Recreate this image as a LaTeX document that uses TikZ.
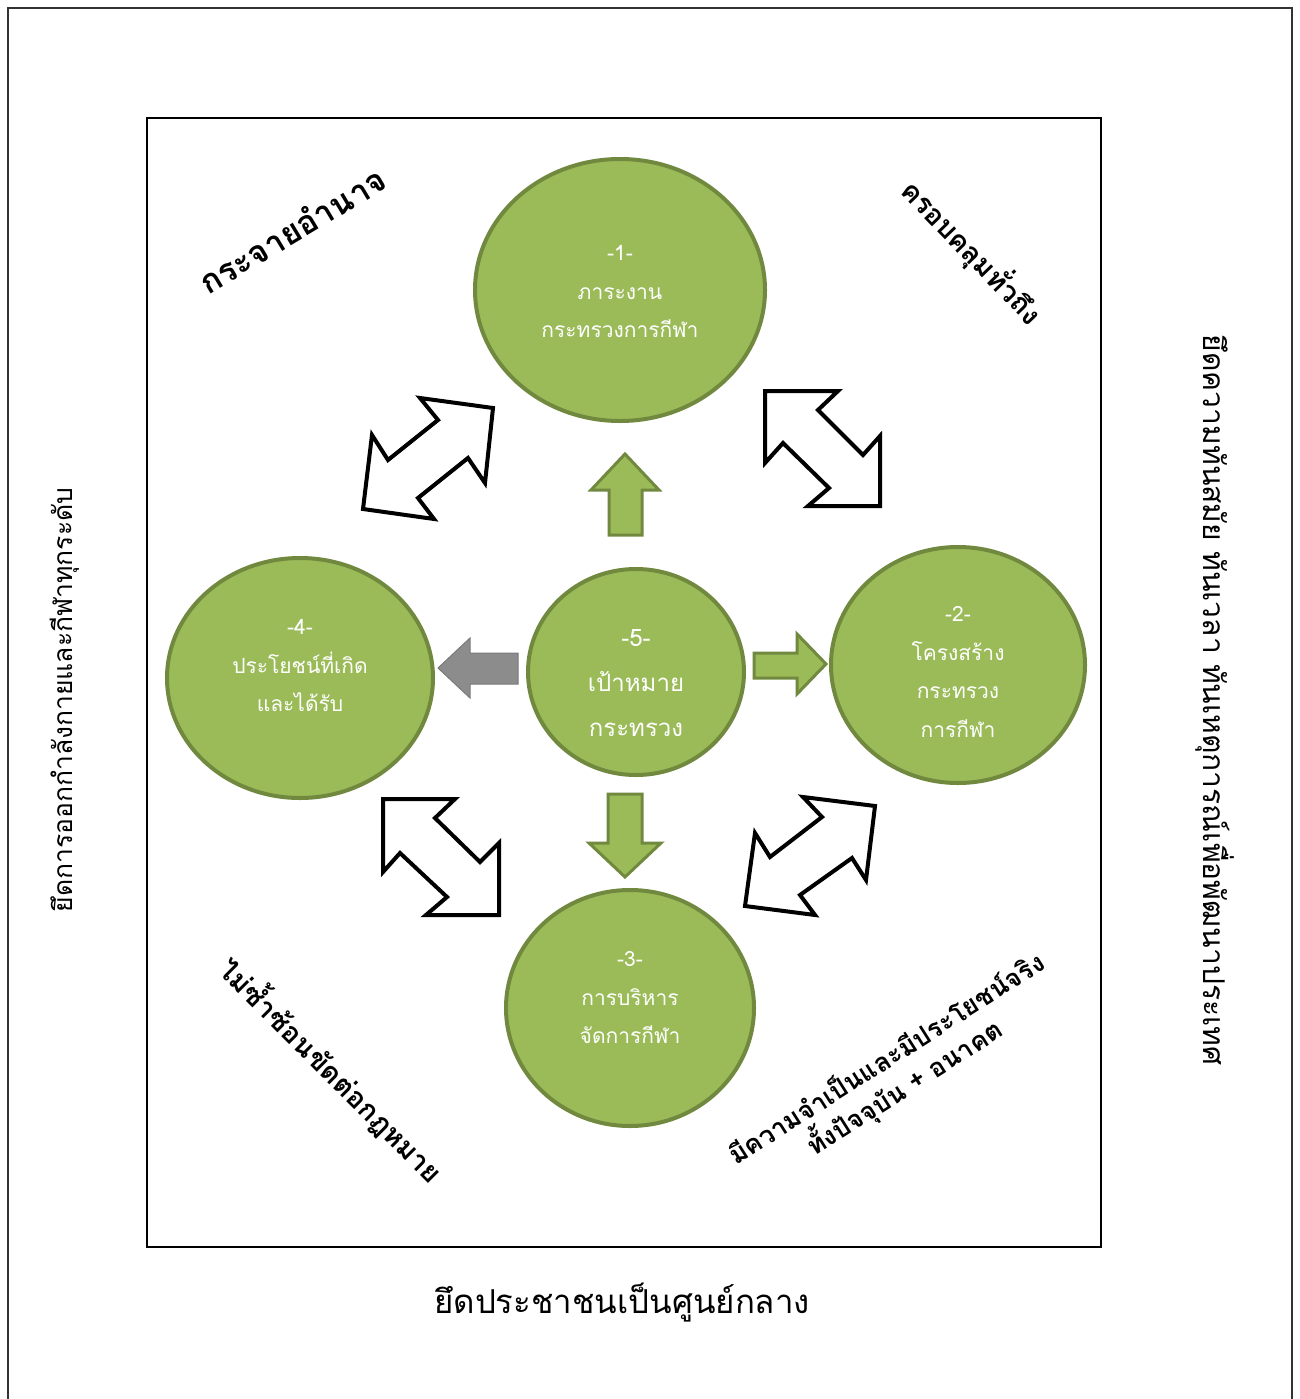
\documentclass[tikz,border=0pt]{standalone}
\usepackage{fontspec}
\setmainfont{Loma}[Script=Thai]
\newfontfamily\thaifont[Script=Thai]{Loma}
\usetikzlibrary{shapes.geometric}
\definecolor{ogreen}{HTML}{9BBB59}
\definecolor{oborder}{HTML}{71893F}
\definecolor{agray}{HTML}{8C8C8C}
\definecolor{agrayb}{HTML}{7A7A7A}
\begin{document}
\begin{tikzpicture}[x=1pt,y=-1pt,
  circ/.style={ellipse, fill=ogreen, draw=oborder, line width=4pt, inner sep=0pt},
  ctext/.style={text=white, align=center, inner sep=0pt, font=\thaifont\fontsize{21}{38.5}\selectfont},
  blockgreen/.style={fill=ogreen, draw=oborder, line width=3pt, line join=miter},
  blockgray/.style={fill=agray, draw=agrayb, line width=1pt},
  dbl/.style={fill=white, draw=black, line width=4pt, line join=miter},
  lbl/.style={font=\thaifont\bfseries\fontsize{28}{36}\selectfont, align=center, inner sep=0pt},
  side/.style={font=\thaifont\fontsize{26.5}{30}\selectfont, inner sep=0pt}]
\useasboundingbox (0,0) rectangle (1299,1399);
\fill[white] (0,0) rectangle (1299,1399);
\draw[line width=1.5pt, black!80] (8,1410) -- (8,8) -- (1292,8) -- (1292,1410);
\draw[line width=2pt] (147,118) rectangle (1101,1247);

% circles
\node[circ, minimum width=290, minimum height=262] (c1) at (620,290) {};
\node[circ, minimum width=254, minimum height=236] (c2) at (958,665) {};
\node[circ, minimum width=248, minimum height=236] (c3) at (630,1008) {};
\node[circ, minimum width=266, minimum height=240] (c4) at (300,678) {};
\node[circ, minimum width=216, minimum height=206] (c5) at (636,672) {};
\node[ctext, yshift=-2pt] (c1t) at (c1) {-1-\\ภาระงาน\\กระทรวงการกีฬา};
\node[ctext, yshift=-7pt] (c2t) at (c2) {-2-\\โครงสร้าง\\กระทรวง\\การกีฬา};
\node[ctext, yshift=10pt] (c3t) at (c3) {-3-\\การบริหาร\\จัดการกีฬา};
\node[ctext, yshift=12pt] (c4t) at (c4) {-4-\\ประโยชน์ที่เกิด\\และได้รับ};
\node[ctext, yshift=-11pt, font=\thaifont\fontsize{24}{45}\selectfont] (c5t) at (c5) {-5-\\เป้าหมาย\\กระทรวง};

% green and gray block arrows
\draw[blockgreen] (609,535) -- (609,490) -- (591,490) -- (625,454) -- (659,490) -- (642,490) -- (642,535) -- cycle;
\draw[blockgreen] (608,794) -- (642,794) -- (642,843) -- (661,843) -- (625,877) -- (589,843) -- (608,843) -- cycle;
\draw[blockgreen] (754,653) -- (797,653) -- (797,634) -- (826,664) -- (797,694) -- (797,678) -- (754,678) -- cycle;
\draw[blockgray] (518,653) -- (470,653) -- (470,638) -- (438,668) -- (470,698) -- (470,684) -- (518,684) -- cycle;

% white double arrows
\draw[dbl] (420,398) -- (493,408) -- (485,483) -- (468,458) -- (418,498) -- (434,519) -- (363,509) -- (372,435) -- (388,460) -- (438,420) -- cycle;
\draw[dbl] (765,391) -- (838,391) -- (818,410) -- (863,455) -- (880,436) -- (880,506) -- (808,506) -- (829,488) -- (783,443) -- (765,463) -- cycle;
\draw[dbl] (383,799) -- (455,799) -- (435,818) -- (480,862) -- (499,843) -- (499,915) -- (426,915) -- (447,897) -- (400,853) -- (383,872) -- cycle;
\draw[dbl] (803,797) -- (875,806) -- (866,880) -- (852,858) -- (800,895) -- (815,915) -- (745,906) -- (755,833) -- (770,857) -- (822,817) -- cycle;

% labels
\node[lbl, rotate=31, font=\thaifont\bfseries\fontsize{33}{36}\selectfont] (t1) at (292,230) {กระจายอำนาจ};
\node[lbl, rotate=-46] (t2) at (972,252) {ครอบคลุมทั่วถึง};
\node[lbl, rotate=-45] (t3) at (332,1070) {ไม่ซ้ำซ้อนขัดต่อกฎหมาย};
\node[lbl, rotate=32.5, font=\thaifont\bfseries\fontsize{26}{34}\selectfont] (t4) at (896,1074) {มีความจำเป็นและมีประโยชน์จริง\\ทั้งปัจจุบัน + อนาคต};
\node[font=\thaifont\fontsize{33}{36}\selectfont, inner sep=0pt] (t5) at (622,1303) {ยึดประชาชนเป็นศูนย์กลาง};
\node[side, rotate=90] (t6) at (65,700) {ยึดการออกกำลังกายและกีฬาทุกระดับ};
\node[side, rotate=-90, font=\thaifont\fontsize{30}{32}\selectfont] (t7) at (1215,700) {ยึดความทันสมัย ทันเวลา ทันเหตุการณ์เพื่อพัฒนาประเทศ};
\end{tikzpicture}
\end{document}
